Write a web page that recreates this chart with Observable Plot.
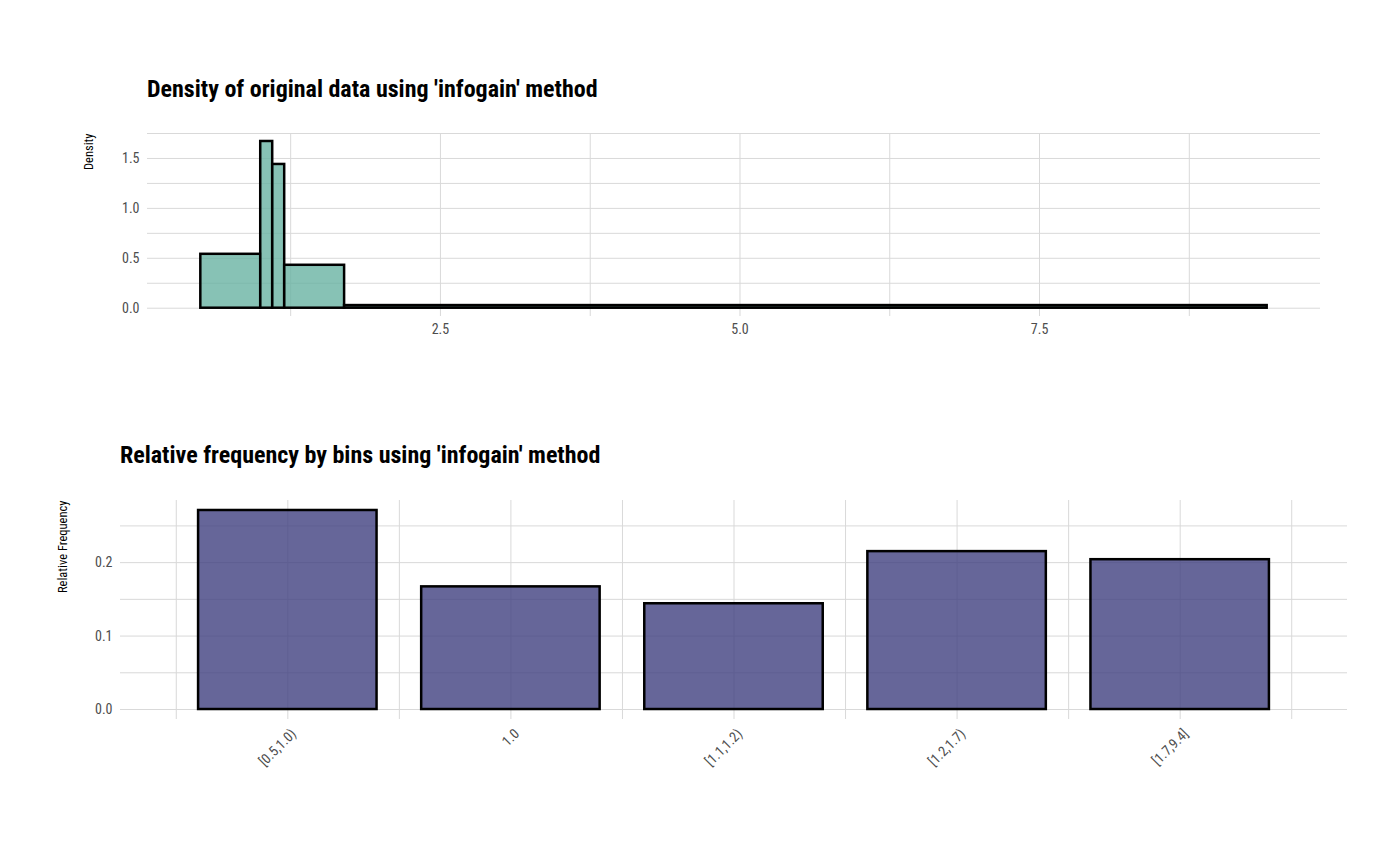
<!DOCTYPE html>
<html>
<head>
<meta charset="utf-8">
<script src="https://cdn.jsdelivr.net/npm/d3@7"></script>
<script src="https://cdn.jsdelivr.net/npm/@observablehq/plot@0.6"></script>
<style>
  body { margin: 0; background: #fff; width: 1400px; height: 866px; position: relative; overflow: hidden;
         font-family: "Roboto Condensed", "Liberation Sans Narrow", "DejaVu Sans Condensed", Roboto, sans-serif; }
  .title { position: absolute; font-weight: bold; font-size: 24px; color: #000; white-space: nowrap; }
  .chart { position: absolute; left: 0; }
  svg text { font-family: "Roboto Condensed", "Liberation Sans Narrow", "DejaVu Sans Condensed", Roboto, sans-serif; }
</style>
</head>
<body>
<div class="title" id="t1" style="left:147px; top:75px;">Density of original data using 'infogain' method</div>
<div class="chart" id="c1" style="top:110px;"></div>
<div class="title" id="t2" style="left:120px; top:441px;">Relative frequency by bins using 'infogain' method</div>
<div class="chart" id="c2" style="top:480px;"></div>
<script>
// Bins (shared by both charts)
const binLabels = ["[0.5,1.0)", "1.0", "[1.1,1.2)", "[1.2,1.7)", "[1.7,9.4]"];
const binStart  = [0.5, 1.0, 1.1, 1.2, 1.7];
const binEnd    = [1.0, 1.1, 1.2, 1.7, 9.4];
// Relative frequency per bin
const relFreq   = [0.271, 0.167, 0.144, 0.215, 0.204];
// Density per bin
const density   = [0.54, 1.67, 1.44, 0.43, 0.0265];

const topXTicks = [2.5, 5.0, 7.5];
const topXMinor = [1.25, 3.75, 6.25, 8.75];
const topYTicks = [0, 0.5, 1.0, 1.5];
const topYMinor = [0.25, 0.75, 1.25, 1.75];
const botYTicks = [0, 0.1, 0.2];
const botYMinor = [0.05, 0.15, 0.25];

const gridColor = "#d9d9d9";
const tickColor = "#4d4d4d";

const densRows = binLabels.map((b, i) => ({bin: b, x1: binStart[i], x2: binEnd[i], y: density[i]}));
const freqRows = binLabels.map((b, i) => ({bin: b, idx: i + 1, y: relFreq[i]}));

const topPlot = Plot.plot({
  width: 1400, height: 240,
  marginLeft: 147, marginRight: 80, marginTop: 23, marginBottom: 34,
  style: {fontSize: "14px", color: tickColor, background: "transparent"},
  x: {domain: [0.055, 9.845], label: null},
  y: {domain: [-0.083, 1.75], label: null},
  marks: [
    Plot.gridX(topXMinor, {stroke: gridColor, strokeOpacity: 1, strokeWidth: 1}),
    Plot.gridX(topXTicks, {stroke: gridColor, strokeOpacity: 1, strokeWidth: 1}),
    Plot.gridY(topYMinor, {stroke: gridColor, strokeOpacity: 1, strokeWidth: 1}),
    Plot.gridY(topYTicks, {stroke: gridColor, strokeOpacity: 1, strokeWidth: 1}),
    Plot.axisX({ticks: topXTicks, tickSize: 0, tickPadding: 8, tickFormat: d3.format(".1f"), label: null, fill: tickColor}),
    Plot.axisY({ticks: topYTicks, tickSize: 0, tickPadding: 8, tickFormat: d3.format(".1f"), label: null, fill: tickColor}),
    Plot.rectY(densRows, {x1: "x1", x2: "x2", y1: 0, y2: "y", fill: "#69b3a2", fillOpacity: 0.8, stroke: "#000", strokeWidth: 2.5, inset: 0}),
    Plot.text(["Density"], {frameAnchor: "top-left", dx: -63, rotate: -90, textAnchor: "end", fill: "#000", fontSize: 12.5})
  ]
});
document.getElementById("c1").appendChild(topPlot);

const botPlot = Plot.plot({
  width: 1400, height: 330,
  marginLeft: 120, marginRight: 53, marginTop: 20, marginBottom: 91,
  style: {fontSize: "14px", color: tickColor, background: "transparent"},
  x: {domain: [0.25, 5.75], label: null},
  y: {domain: [-0.0136, 0.2846], label: null},
  marks: [
    Plot.gridX(d3.range(0.5, 6, 1), {stroke: gridColor, strokeOpacity: 1, strokeWidth: 1}),
    Plot.gridX(d3.range(1, 6, 1), {stroke: gridColor, strokeOpacity: 1, strokeWidth: 1}),
    Plot.gridY(botYMinor, {stroke: gridColor, strokeOpacity: 1, strokeWidth: 1}),
    Plot.gridY(botYTicks, {stroke: gridColor, strokeOpacity: 1, strokeWidth: 1}),
    Plot.axisX({ticks: d3.range(1, 6, 1), tickSize: 0, tickPadding: 12, tickRotate: -45, dx: 6,
                tickFormat: d => binLabels[d - 1], label: null, fill: tickColor}),
    Plot.axisY({ticks: botYTicks, tickSize: 0, tickPadding: 8, tickFormat: d3.format(".1f"), label: null, fill: tickColor}),
    Plot.rectY(freqRows, {x1: d => d.idx - 0.4, x2: d => d.idx + 0.4, y1: 0, y2: "y", fill: "#404080", fillOpacity: 0.8, stroke: "#000", strokeWidth: 2.5}),
    Plot.text(["Relative Frequency"], {frameAnchor: "top-left", dx: -62, rotate: -90, textAnchor: "end", fill: "#000", fontSize: 12.5})
  ]
});
document.getElementById("c2").appendChild(botPlot);
</script>
</body>
</html>
